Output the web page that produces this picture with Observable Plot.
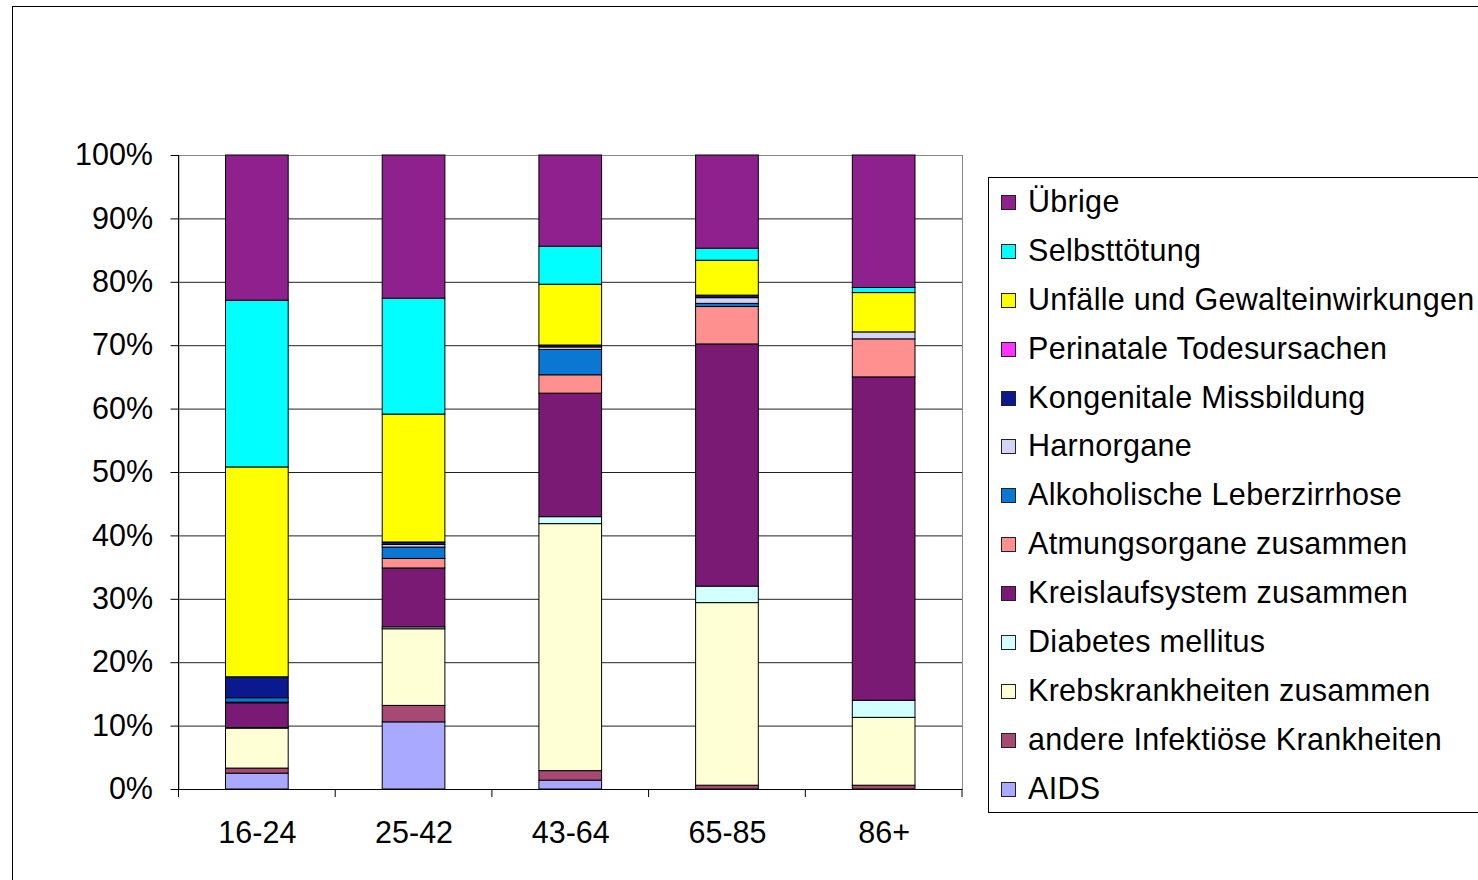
<!DOCTYPE html>
<html>
<head>
<meta charset="utf-8">
<script src="https://cdn.jsdelivr.net/npm/d3@7"></script>
<script src="https://cdn.jsdelivr.net/npm/@observablehq/plot@0.6"></script>
<style>
  html, body { margin: 0; padding: 0; background: #fff; overflow: hidden; }
  #wrap { position: relative; width: 1478px; height: 880px; font-family: "Liberation Sans", Arial, sans-serif; }
  #frame { position: absolute; left: 12px; top: 6px; width: 1500px; height: 900px; border: 1px solid #000; box-sizing: border-box; }
  #chart { position: absolute; left: 0; top: 0; }
  #legend { position: absolute; left: 988px; top: 177px; width: 520px; height: 636px; border: 1px solid #000; box-sizing: border-box; background: #fff; }
  .row { position: relative; height: 48.9px; line-height: 48.9px; font-size: 30.5px; letter-spacing: 0.3px; color: #000; white-space: nowrap; }
  .sw { position: absolute; left: 12px; top: 17px; width: 15px; height: 15px; border: 1px solid #222; box-sizing: border-box; }
  .lab { position: absolute; left: 39px; top: -1px; }
</style>
</head>
<body>
<div id="wrap">
  <div id="frame"></div>
  <div id="chart"></div>
  <div id="legend"></div>
</div>
<script>
// Categories (x)
const ageGroups = ["16-24", "25-42", "43-64", "65-85", "86+"];

// Causes, bottom of stack to top
const causes = [
  "AIDS",
  "andere Infektiöse Krankheiten",
  "Krebskrankheiten zusammen",
  "Diabetes mellitus",
  "Kreislaufsystem zusammen",
  "Atmungsorgane zusammen",
  "Alkoholische Leberzirrhose",
  "Harnorgane",
  "Kongenitale Missbildung",
  "Perinatale Todesursachen",
  "Unfälle und Gewalteinwirkungen",
  "Selbsttötung",
  "Übrige"
];
const causeColors = [
  "#a9a9ff", "#a64a73", "#ffffd6", "#d2ffff", "#7a1a74", "#ff9090",
  "#0a78d2", "#d4d4f6", "#0a1a8e", "#ff33ff", "#ffff00", "#00ffff", "#8e218e"
];

// Shares (%) per age group
const aids          = [2.5, 10.6, 1.4, 0.0, 0.0];
const infektioese   = [0.8, 2.6, 1.5, 0.6, 0.6];
const krebs         = [6.3, 12.1, 39.0, 28.8, 10.7];
const diabetes      = [0.1, 0.3, 1.1, 2.6, 2.7];
const kreislauf     = [3.9, 9.3, 19.5, 38.2, 51.0];
const atmung        = [0.1, 1.5, 2.9, 5.9, 6.0];
const alkohol       = [0.7, 1.8, 4.0, 0.5, 0.0];
const harnorgane    = [0.0, 0.4, 0.4, 0.9, 1.1];
const kongenital    = [3.3, 0.4, 0.3, 0.4, 0.0];
const perinatal     = [0.0, 0.0, 0.0, 0.0, 0.0];
const unfaelle      = [33.1, 20.2, 9.6, 5.5, 6.2];
const selbsttoetung = [26.3, 18.3, 6.0, 1.9, 0.8];
const uebrige       = [22.9, 22.6, 14.4, 14.7, 20.9];

const seriesValues = [aids, infektioese, krebs, diabetes, kreislauf, atmung, alkohol,
  harnorgane, kongenital, perinatal, unfaelle, selbsttoetung, uebrige];

const yTicks = [0, 0.1, 0.2, 0.3, 0.4, 0.5, 0.6, 0.7, 0.8, 0.9, 1.0];

const rows = [];
causes.forEach((c, i) => ageGroups.forEach((a, j) => {
  rows.push({age: a, cause: c, value: seriesValues[i][j]});
}));
const nonZero = rows.filter(d => d.value > 0);

// left axis line and category boundary ticks, positioned via the band scale
function axisLines(index, scales, values, dimensions) {
  const x = scales.x;
  const step = x.step(), bw = x.bandwidth();
  const y0 = dimensions.height - dimensions.marginBottom;
  const g = d3.create("svg:g").attr("stroke", "#000").attr("stroke-width", 1);
  const xs = ageGroups.map(a => x(a) - (step - bw) / 2);
  xs.push(x(ageGroups[ageGroups.length - 1]) + bw + (step - bw) / 2);
  for (const xv of xs) {
    g.append("line").attr("x1", xv).attr("x2", xv).attr("y1", y0).attr("y2", y0 + 8);
  }
  g.append("line").attr("x1", xs[0]).attr("x2", xs[0])
    .attr("y1", dimensions.marginTop).attr("y2", y0);
  return g.node();
}

const chart = Plot.plot({
  width: 1478,
  height: 880,
  marginLeft: 178.5,
  marginRight: 516,
  marginTop: 155,
  marginBottom: 91,
  style: {fontFamily: "'Liberation Sans', Arial, sans-serif", fontSize: "30.5px", color: "#000", background: "transparent", overflow: "visible"},
  x: {domain: ageGroups, paddingInner: 0.6, paddingOuter: 0.3, round: false, label: null},
  y: {domain: [0, 1], label: null},
  color: {domain: causes, range: causeColors},
  marks: [
    Plot.gridY(yTicks, {stroke: "#222", strokeOpacity: 1, strokeWidth: 1}),
    Plot.frame({stroke: "#888"}),
    Plot.ruleY([0], {stroke: "#000"}),
    Plot.axisY(yTicks, {tickFormat: d3.format(".0%"), tickSize: 8, tickPadding: 18, label: null, fontSize: 30.5}),
    Plot.axisX({tickSize: 0, tickPadding: 32, label: null, fontSize: 30.5}),
    axisLines,
    Plot.barY(nonZero, Plot.stackY({
      x: "age", y: "value", fill: "cause", z: "cause",
      order: causes, offset: "normalize",
      stroke: "#000", strokeWidth: 1
    }))
  ]
});
document.getElementById("chart").appendChild(chart);

// Legend (top to bottom = reverse stacking order)
const legend = document.getElementById("legend");
causes.map((c, i) => ({c, col: causeColors[i]})).reverse().forEach(({c, col}) => {
  const row = document.createElement("div");
  row.className = "row";
  const sw = document.createElement("span");
  sw.className = "sw";
  sw.style.background = col;
  const lab = document.createElement("span");
  lab.className = "lab";
  lab.textContent = c;
  row.appendChild(sw);
  row.appendChild(lab);
  legend.appendChild(row);
});
</script>
</body>
</html>
